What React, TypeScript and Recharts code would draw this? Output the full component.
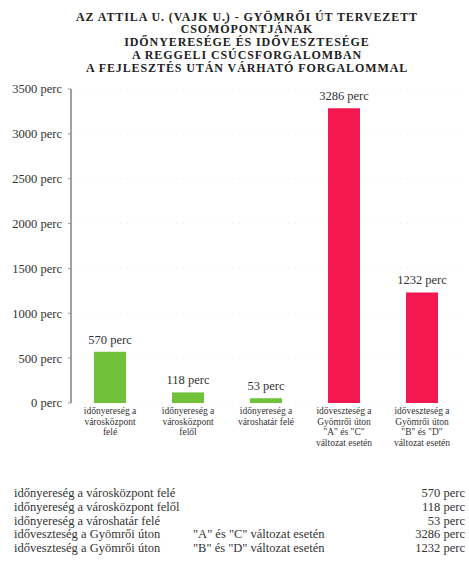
import React from 'react'
import { BarChart, Bar, XAxis, YAxis, CartesianGrid, LabelList, Cell } from 'recharts'

const titleLines = [
  'AZ ATTILA U. (VAJK U.) - GYÖMRŐI ÚT TERVEZETT',
  'CSOMÓPONTJÁNAK',
  'IDŐNYERESÉGE ÉS IDŐVESZTESÉGE',
  'A REGGELI CSÚCSFORGALOMBAN',
  'A FEJLESZTÉS UTÁN VÁRHATÓ FORGALOMMAL',
]

const categoryIds = ['c1', 'c2', 'c3', 'c4', 'c5']
const categoryLines = [
  ['időnyereség a', 'városközpont', 'felé'],
  ['időnyereség a', 'városközpont', 'felől'],
  ['időnyereség a', 'városhatár felé'],
  ['időveszteség a', 'Gyömrői úton', '"A" és "C"', 'változat esetén'],
  ['időveszteség a', 'Gyömrői úton', '"B" és "D"', 'változat esetén'],
]
const minutes = [570, 118, 53, 3286, 1232]
const kinds = ['gain', 'gain', 'gain', 'loss', 'loss']
const yTicks = [0, 500, 1000, 1500, 2000, 2500, 3000, 3500]

const tableLabels = [
  'időnyereség a városközpont felé',
  'időnyereség a városközpont felől',
  'időnyereség a városhatár felé',
  'időveszteség a Gyömrői úton',
  'időveszteség a Gyömrői úton',
]
const tableVariants = ['', '', '', '"A" és "C" változat esetén', '"B" és "D" változat esetén']

const FONT = '"Liberation Serif", "DejaVu Serif", serif'
const GREEN = '#70c23a'
const RED = '#f3184f'

const data = categoryIds.map((id, i) => ({ id, value: minutes[i], kind: kinds[i] }))

const CategoryTick = ({ x, y, index }: any) => {
  const lines = categoryLines[index] || []
  return (
    <text x={x} y={y} textAnchor="middle" fontFamily={FONT} fontSize={9.5} fill="#333">
      {lines.map((line, i) => (
        <tspan key={i} x={x} dy={i === 0 ? 9 : 10.5}>
          {line}
        </tspan>
      ))}
    </text>
  )
}

const ValueLabel = ({ x, y, width, value }: any) => (
  <text
    x={x + width / 2}
    y={y - 8}
    textAnchor="middle"
    fontFamily={FONT}
    fontSize={12.5}
    fill="#333"
  >
    {`${value} perc`}
  </text>
)

export default function App() {
  return (
    <div style={{ position: 'absolute', left: 0, top: 0, width: 469, height: 562, background: '#fff', fontFamily: FONT }}>
      <div style={{ position: 'absolute', left: 22, top: 10.5, width: 450, textAlign: 'center' }}>
        {titleLines.map((line, i) => (
          <div key={i} style={{ fontSize: 12, fontWeight: 700, lineHeight: '12.9px', letterSpacing: 0.9, color: '#222', whiteSpace: 'nowrap' }}>
            {line}
          </div>
        ))}
      </div>

      <div style={{ position: 'absolute', left: 0, top: 0 }}>
        <BarChart
          width={469}
          height={470}
          data={data}
          margin={{ top: 89, right: 8, left: 0, bottom: 37 }}
          barSize={32}
        >
          <CartesianGrid vertical={false} stroke="#ececec" strokeDasharray="1 6" />
          <XAxis
            dataKey="id"
            height={30}
            axisLine={false}
            tickLine={false}
            tickSize={0}
            tickMargin={2}
            interval={0}
            tick={<CategoryTick />}
          />
          <YAxis
            width={71}
            domain={[0, 3500]}
            ticks={yTicks}
            interval={0}
            axisLine={{ stroke: '#444' }}
            tickLine={{ stroke: '#999' }}
            tickSize={3}
            tickMargin={6}
            tickFormatter={(v: number) => `${v} perc`}
            tick={{ fontFamily: FONT, fontSize: 12.5, fill: '#333' }}
          />
          <Bar dataKey="value" isAnimationActive={false}>
            {data.map((d) => (
              <Cell key={d.id} fill={d.kind === 'gain' ? GREEN : RED} />
            ))}
            <LabelList dataKey="value" content={<ValueLabel />} />
          </Bar>
        </BarChart>
      </div>

      <div style={{ position: 'absolute', left: 14, top: 487, width: 451, fontSize: 12.5, color: '#333' }}>
        {tableLabels.map((label, i) => (
          <div key={i} style={{ position: 'relative', height: 13.8, lineHeight: '13.8px', whiteSpace: 'nowrap' }}>
            <span style={{ position: 'absolute', left: 0 }}>{label}</span>
            <span style={{ position: 'absolute', left: 179 }}>{tableVariants[i]}</span>
            <span style={{ position: 'absolute', right: 0 }}>{minutes[i]} perc</span>
          </div>
        ))}
      </div>
    </div>
  )
}
